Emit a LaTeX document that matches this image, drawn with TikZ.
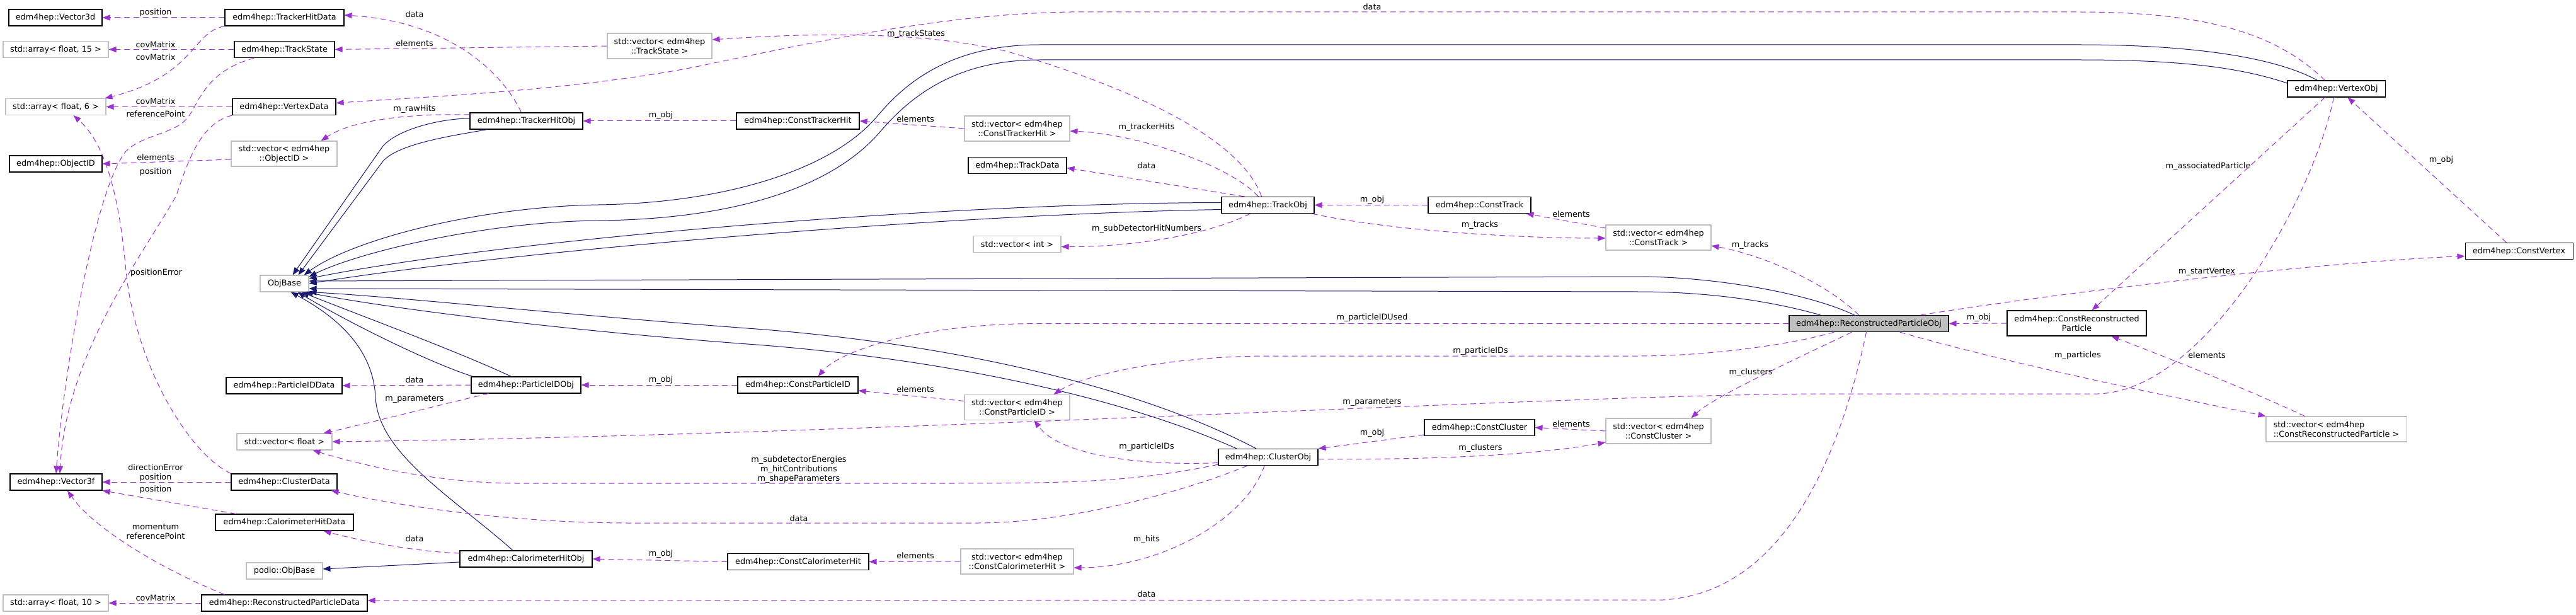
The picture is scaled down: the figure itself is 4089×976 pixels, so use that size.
\documentclass[tikz,border=0pt]{standalone}
\usepackage{fontspec}
\setmainfont{DejaVu Sans}
\usetikzlibrary{arrows.meta,calc}
\definecolor{dpurple}{HTML}{9A32CD}
\definecolor{dblue}{HTML}{191970}
\definecolor{dgray}{HTML}{BFBFBF}
\begin{document}
\begin{tikzpicture}[x=1pt,y=-1pt,
  every node/.style={font=\fontsize{12.8}{15}\selectfont},
  cls/.style={draw=black, line width=1.1pt, fill=white, minimum height=26pt, inner sep=0pt, align=center},
  ext/.style={draw=dgray, line width=1.1pt, fill=white, minimum height=26pt, inner sep=0pt, align=center},
  dep/.style={draw=dpurple, line width=1.0pt, dash pattern=on 9pt off 6pt, -{Triangle[length=12pt,width=9pt]}},
  inh/.style={draw=dblue, line width=1.0pt, -{Triangle[length=12pt,width=9pt]}},
  lbl/.style={inner sep=0pt, align=center}
]
\useasboundingbox (0,0) rectangle (4089,976);
\fill[white] (0,0) rectangle (4089,976);

% ---- nodes
\node[cls, minimum width=148pt] (vd) at (88,28) {edm4hep::Vector3d};
\node[ext, minimum width=167pt] (a15) at (88.5,78.5) {std::array< float, 15 >};
\node[ext, minimum width=159pt] (a6) at (88.5,169.5) {std::array< float, 6 >};
\node[cls, minimum width=147pt] (oid) at (88.5,260) {edm4hep::ObjectID};
\node[cls, minimum width=146pt] (v3f) at (89,765) {edm4hep::Vector3f};
\node[ext, minimum width=167pt] (a10) at (88.5,957) {std::array< float, 10 >};

\node[cls, minimum width=189pt] (thd) at (451.5,28) {edm4hep::TrackerHitData};
\node[cls, minimum width=159pt] (ts) at (451.5,78.5) {edm4hep::TrackState};
\node[cls, minimum width=164pt] (vxd) at (451,169.5) {edm4hep::VertexData};
\node[ext, minimum width=168pt, minimum height=40pt] (void) at (451,244) {std::vector< edm4hep\\::ObjectID >};
\node[ext, minimum width=77pt] (ob) at (451.5,450) {ObjBase};
\node[cls, minimum width=184pt] (pidd) at (451,612) {edm4hep::ParticleIDData};
\node[ext, minimum width=151pt] (vf) at (451.5,701) {std::vector< float >};
\node[cls, minimum width=168pt] (cd) at (451,765) {edm4hep::ClusterData};
\node[cls, minimum width=219pt] (chd) at (451.5,829) {edm4hep::CalorimeterHitData};
\node[ext, minimum width=121pt] (pob) at (451.5,906) {podio::ObjBase};
\node[cls, minimum width=263pt] (rpd) at (451.5,957) {edm4hep::ReconstructedParticleData};

\node[cls, minimum width=179pt] (tho) at (835.5,192) {edm4hep::TrackerHitObj};
\node[cls, minimum width=174pt] (pido) at (835,611) {edm4hep::ParticleIDObj};
\node[cls, minimum width=210pt] (cho) at (835,887) {edm4hep::CalorimeterHitObj};
\node[ext, minimum width=166pt, minimum height=40pt] (vts) at (1047,73) {std::vector< edm4hep\\::TrackState >};
\node[cls, minimum width=195pt] (cth) at (1266.5,192) {edm4hep::ConstTrackerHit};
\node[cls, minimum width=191pt] (cpid) at (1266.5,611) {edm4hep::ConstParticleID};
\node[cls, minimum width=224pt] (cch) at (1267,891.5) {edm4hep::ConstCalorimeterHit};
\node[ext, minimum width=167pt, minimum height=40pt] (vcth) at (1614.5,204) {std::vector< edm4hep\\::ConstTrackerHit >};
\node[cls, minimum width=156pt] (td) at (1615,262.5) {edm4hep::TrackData};
\node[ext, minimum width=139pt] (vi) at (1614.5,387.5) {std::vector< int >};
\node[ext, minimum width=167pt, minimum height=40pt] (vcpid) at (1614.5,646.5) {std::vector< edm4hep\\::ConstParticleID >};
\node[ext, minimum width=179pt, minimum height=40pt] (vcch) at (1614.5,891) {std::vector< edm4hep\\::ConstCalorimeterHit >};
\node[cls, minimum width=147pt] (to) at (2012.5,325.5) {edm4hep::TrackObj};
\node[cls, minimum width=158pt] (co) at (2013,725.5) {edm4hep::ClusterObj};
\node[cls, minimum width=163pt] (ct) at (2348.5,325.5) {edm4hep::ConstTrack};
\node[cls, minimum width=175pt] (cc) at (2348.5,678.5) {edm4hep::ConstCluster};
\node[ext, minimum width=167pt, minimum height=40pt] (vct) at (2632.5,377) {std::vector< edm4hep\\::ConstTrack >};
\node[ext, minimum width=167pt, minimum height=40pt] (vcc) at (2632.5,684) {std::vector< edm4hep\\::ConstCluster >};
\node[cls, fill=dgray, minimum width=253pt] (rpo) at (2966.5,513.5) {edm4hep::ReconstructedParticleObj};
\node[cls, minimum width=221pt, minimum height=40pt] (crp) at (3296.5,513) {edm4hep::ConstReconstructed\\Particle};
\node[cls, minimum width=155pt] (vxo) at (3708.5,141) {edm4hep::VertexObj};
\node[ext, minimum width=223pt, minimum height=40pt, align=left] (vcrp) at (3708.5,681) {std::vector< edm4hep\\::ConstReconstructedParticle >};
\node[cls, minimum width=171pt] (cv) at (3998.5,398.5) {edm4hep::ConstVertex};

% ---- inheritance (solid)
\draw[inh] ($(tho.west)+(0,-4)$) .. controls (700,188) and (630,205) .. (607,233) -- ($(ob.north east)+(-26,0)$);
\draw[inh] ($(tho.south west)+(28,0)$) .. controls (720,215) and (630,228) .. (607,257) -- ($(ob.north east)+(-17,0)$);
\draw[inh] ($(vxo.north west)+(48,0)$) .. controls (3600,85) and (3450,71) .. (3300,71) -- (1650,71) .. controls (1500,71) and (1430,140) .. (1392,185) .. controls (1320,270) and (1150,322) .. (950,325) .. controls (760,328) and (560,380) .. ($(ob.north east)+(-8,0)$);
\draw[inh] ($(vxo.west)+(0,-9)$) .. controls (3550,105) and (3450,95) .. (3300,95) -- (1650,95) .. controls (1510,95) and (1440,160) .. (1398,208) .. controls (1320,300) and (1160,348) .. (950,350) .. controls (770,352) and (570,400) .. ($(ob.east)+(0,-11)$);
\draw[inh] ($(to.west)+(0,-4)$) .. controls (1500,322) and (800,380) .. ($(ob.east)+(0,-8)$);
\draw[inh] ($(to.west)+(0,7)$) .. controls (1500,340) and (800,400) .. ($(ob.east)+(0,0)$);
\draw[inh] ($(rpo.north)+(-23,0)$) .. controls (2870,465) and (2720,439) .. (2600,439) -- ($(ob.east)+(0,-4)$);
\draw[inh] ($(rpo.north west)+(50,0)$) .. controls (2820,480) and (2720,463) .. (2600,463) -- ($(ob.east)+(0,8)$);
\draw[inh] ($(co.north)+(-19,0)$) .. controls (1800,610) and (1500,545) .. (1200,522) .. controls (900,500) and (620,470) .. (ob.south east);
\draw[inh] ($(co.north)+(-50,0)$) .. controls (1780,630) and (1500,570) .. (1200,547) .. controls (900,525) and (620,490) .. ($(ob.south east)+(-6,0)$);
\draw[inh] ($(pido.north west)+(64,0)$) .. controls (720,555) and (570,500) .. ($(ob.south east)+(-12,0)$);
\draw[inh] ($(pido.north west)+(3,0)$) .. controls (680,575) and (550,510) .. ($(ob.south east)+(-18,0)$);
\draw[inh] ($(cho.north)+(-21,0)$) .. controls (720,790) and (600,720) .. (596,630) .. controls (592,550) and (530,500) .. ($(ob.south)+(10,0)$);
\draw[inh] ($(cho.west)+(0,5)$) -- ($(pob.east)+(0,-3)$);

% ---- usage (dashed)
\draw[dep] (thd.west) -- (vd.east);
\draw[dep] (thd.south west) .. controls (305,50) and (310,120) .. ($(a6.north east)+(-2,0)$);
\draw[dep] (ts.west) -- (a15.east);
\draw[dep] ($(ts.south west)+(32,0)$) .. controls (320,115) and (315,170) .. (295,190) .. controls (275,212) and (225,215) .. (200,240) .. controls (150,300) and (100,600) .. (v3f.north);
\draw[dep] (vxd.west) -- (a6.east);
\draw[dep] (vxd.south west) .. controls (320,195) and (300,250) .. (280,310) .. controls (230,400) and (105,560) .. ($(v3f.north)+(6,0)$);
\draw[dep] ($(void.west)+(0,9)$) -- (oid.east);
\draw[dep] (cd.north west) .. controls (300,720) and (215,580) .. (200,430) .. controls (190,320) and (170,230) .. ($(a6.south)+(28,0)$);
\draw[dep] (cd.west) -- (v3f.east);
\draw[dep] ($(chd.north west)+(33,0)$) -- (v3f.south east);
\draw[dep] ($(rpd.north west)+(37,0)$) .. controls (260,905) and (150,840) .. ($(v3f.south)+(18,0)$);
\draw[dep] (rpd.west) -- (a10.east);
\draw[dep] ($(tho.north)+(-8,0)$) .. controls (800,120) and (720,35) .. ($(thd.east)+(0,-4)$);
\draw[dep] (vts.west) -- (ts.east);
\draw[dep] ($(tho.west)+(0,-10)$) .. controls (650,180) and (560,190) .. ($(void.north east)+(-26,0)$);
\draw[dep] ($(vxo.north)+(-18,0)$) .. controls (3620,60) and (3520,19) .. (3300,19) -- (1700,19) .. controls (1500,22) and (1300,65) .. (1100,107) .. controls (900,145) and (650,155) .. ($(vxd.east)+(0,-6)$);
\draw[dep] ($(to.north)+(-10,0)$) .. controls (1970,220) and (1800,140) .. (1600,82) .. controls (1450,45) and (1250,55) .. ($(vts.east)+(0,-10)$);
\draw[dep] (cth.west) -- (tho.east);
\draw[dep] (vcth.west) -- (cth.east);
\draw[dep] ($(to.north)+(-15,0)$) .. controls (1950,260) and (1800,212) .. ($(vcth.east)+(0,4)$);
\draw[dep] ($(to.north west)+(37,0)$) -- ($(td.east)+(0,4)$);
\draw[dep] ($(to.south)+(-28,0)$) .. controls (1920,372) and (1800,392) .. ($(vi.east)+(0,4)$);
\draw[dep] (ct.west) -- (to.east);
\draw[dep] ($(to.south east)+(-4,0)$) .. controls (2200,365) and (2400,378) .. ($(vct.west)+(0,1)$);
\draw[dep] ($(vct.west)+(0,-15)$) -- ($(ct.south east)+(-8,0)$);
\draw[dep] ($(rpo.north)+(-16,0)$) .. controls (2900,450) and (2800,405) .. ($(vct.east)+(0,13)$);
\draw[dep] (rpo.west) -- (1650,513.5) .. controls (1450,513.5) and (1330,560) .. ($(cpid.north)+(32,0)$);
\draw[dep] ($(rpo.south west)+(72,0)$) .. controls (2850,545) and (2720,565) .. (2600,565) -- (2000,565) .. controls (1850,567) and (1720,595) .. ($(vcpid.north)+(58,0)$);
\draw[dep] ($(vcpid.west)+(0,-10)$) -- ($(cpid.east)+(0,9)$);
\draw[dep] ($(co.west)+(0,9)$) .. controls (1800,740) and (1680,720) .. ($(vcpid.south)+(27,0)$);
\draw[dep] (cpid.west) -- (pido.east);
\draw[dep] (pido.west) -- (pidd.east);
\draw[dep] ($(pido.south west)+(28,0)$) .. controls (700,642) and (600,668) .. ($(vf.north east)+(-14,0)$);
\draw[dep] ($(vxo.south)+(-4,0)$) .. controls (3670,320) and (3500,620) .. (3330,625) -- (2900,625) .. controls (2500,625) and (1400,690) .. (vf.east);
\draw[dep] ($(co.south west)+(0,-2)$) .. controls (1800,765) and (1700,767) .. (1500,767) -- (820,767) .. controls (700,767) and (580,740) .. ($(vf.south east)+(-31,0)$);
\draw[dep] ($(co.south)+(-33,0)$) .. controls (1880,780) and (1700,830) .. (1550,830) -- (1000,830) .. controls (800,830) and (620,800) .. ($(cd.south east)+(-10,0)$);
\draw[dep] ($(co.south)+(-6,0)$) .. controls (1980,820) and (1850,900) .. ($(vcch.east)+(0,10)$);
\draw[dep] (vcch.west) -- (cch.east);
\draw[dep] (cch.west) -- (cho.east);
\draw[dep] ($(cho.west)+(0,-9)$) .. controls (650,875) and (560,855) .. ($(chd.south east)+(-48,0)$);
\draw[dep] ($(rpo.south)+(-4,0)$) .. controls (2930,680) and (2850,940) .. (2640,952) -- ($(rpd.east)+(0,-4)$);
\draw[dep] ($(cc.south west)+(0,-2)$) -- (co.north east);
\draw[dep] ($(co.east)+(0,3)$) .. controls (2300,730) and (2450,720) .. ($(vcc.west)+(0,18)$);
\draw[dep] (vcc.west) -- (cc.east);
\draw[dep] ($(rpo.south)+(-27,0)$) .. controls (2850,570) and (2720,630) .. ($(vcc.north)+(52,0)$);
\draw[dep] (crp.west) -- (rpo.east);
\draw[dep] ($(rpo.south east)+(-78,0)$) .. controls (3200,580) and (3450,630) .. (vcrp.north west);
\draw[dep] ($(vcrp.north)+(-50,0)$) .. controls (3550,610) and (3420,560) .. ($(crp.south)+(55,0)$);
\draw[dep] ($(rpo.north east)+(-45,0)$) .. controls (3300,460) and (3700,415) .. ($(cv.west)+(0,8)$);
\draw[dep] ($(cv.north)+(-20,0)$) -- ($(vxo.south)+(18,0)$);
\draw[dep] ($(vxo.south)+(-18,0)$) -- ($(crp.north)+(24,0)$);

% ---- labels
\node[lbl] (l01) at (247,20) {position};
\node[lbl] (l02) at (247,71) {covMatrix};
\node[lbl] (l03) at (247,91) {covMatrix};
\node[lbl] (l04) at (247,161) {covMatrix};
\node[lbl] (l05) at (247,181) {referencePoint};
\node[lbl] (l06) at (247,250) {elements};
\node[lbl] (l07) at (247,273) {position};
\node[lbl] (l08) at (248,433) {positionError};
\node[lbl] (l09) at (658,23) {data};
\node[lbl] (l10) at (658,69) {elements};
\node[lbl] (l11) at (658,173) {m\_rawHits};
\node[lbl] (l12) at (658,603) {data};
\node[lbl] (l13) at (658,634) {m\_parameters};
\node[lbl] (l14) at (247,750) {directionError\\position};
\node[lbl] (l15) at (247,777) {position};
\node[lbl] (l16) at (247,844) {momentum\\referencePoint};
\node[lbl] (l17) at (658,855) {data};
\node[lbl] (l18) at (247,949) {covMatrix};
\node[lbl] (l19) at (1049,183) {m\_obj};
\node[lbl] (l20) at (1049,603) {m\_obj};
\node[lbl] (l21) at (1049,879) {m\_obj};
\node[lbl] (l22) at (1268,745) {m\_subdetectorEnergies\\m\_hitContributions\\m\_shapeParameters};
\node[lbl] (l23) at (1268,823) {data};
\node[lbl] (l24) at (1454,54) {m\_trackStates};
\node[lbl] (l25) at (1453,189) {elements};
\node[lbl] (l26) at (1820,202) {m\_trackerHits};
\node[lbl] (l27) at (1820,263) {data};
\node[lbl] (l28) at (1820,363) {m\_subDetectorHitNumbers};
\node[lbl] (l29) at (1453,618) {elements};
\node[lbl] (l30) at (1820,709) {m\_particleIDs};
\node[lbl] (l31) at (1820,856) {m\_hits};
\node[lbl] (l32) at (1453,882) {elements};
\node[lbl] (l33) at (1820,943) {data};
\node[lbl] (l34) at (2178,11) {data};
\node[lbl] (l35) at (2178,317) {m\_obj};
\node[lbl] (l36) at (2494,340) {elements};
\node[lbl] (l37) at (2349,357) {m\_tracks};
\node[lbl] (l38) at (2178,504) {m\_particleIDUsed};
\node[lbl] (l39) at (2350,557) {m\_particleIDs};
\node[lbl] (l40) at (2178,639) {m\_parameters};
\node[lbl] (l41) at (2494,673) {elements};
\node[lbl] (l42) at (2178,687) {m\_obj};
\node[lbl] (l43) at (2350,711) {m\_clusters};
\node[lbl] (l44) at (2778,389) {m\_tracks};
\node[lbl] (l45) at (3141,504) {m\_obj};
\node[lbl] (l46) at (2779,591) {m\_clusters};
\node[lbl] (l47) at (3298,564) {m\_particles};
\node[lbl] (l48) at (3505,264) {m\_associatedParticle};
\node[lbl] (l49) at (3875,254) {m\_obj};
\node[lbl] (l50) at (3503,431) {m\_startVertex};
\node[lbl] (l51) at (3503,564) {elements};
\end{tikzpicture}
\end{document}
